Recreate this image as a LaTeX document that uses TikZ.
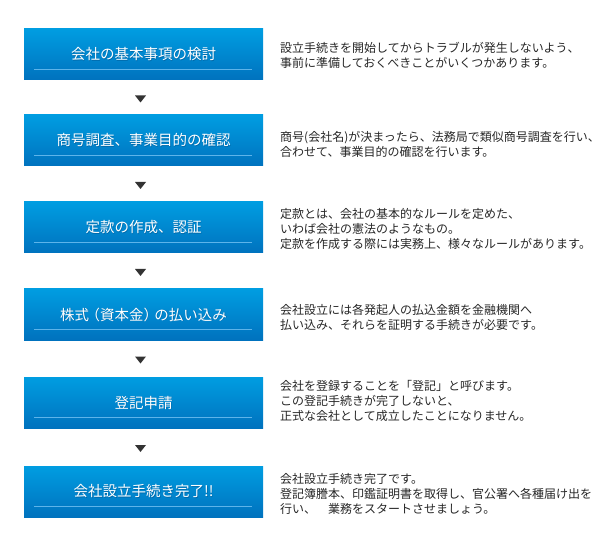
\documentclass[tikz,border=0pt]{standalone}
\usepackage{fontspec}
\setmainfont{Noto Sans CJK JP}
\usetikzlibrary{calc}
\definecolor{boxtop}{HTML}{009DE1}
\definecolor{boxbot}{HTML}{0072BE}
\definecolor{rulec}{HTML}{5DB4EA}
\definecolor{descc}{HTML}{262626}
\definecolor{tric}{HTML}{333333}
\definecolor{shadowc}{HTML}{004A80}
\begin{document}
\begin{tikzpicture}[x=1pt,y=-1pt,
  stepbox/.style={minimum width=239pt,minimum height=51pt,inner sep=0pt,outer sep=0pt,
    anchor=north west,top color=boxtop,bottom color=boxbot,draw=none},
  titletext/.style={text=white,font=\fontsize{14.5pt}{17pt}\selectfont,inner sep=0pt},
  titleshadow/.style={text=shadowc,opacity=0.45,font=\fontsize{14.5pt}{17pt}\selectfont,inner sep=0pt},
  rulestyle/.style={draw=rulec,line width=0.9pt},
  desctext/.style={text=descc,font=\fontsize{12pt}{15pt}\selectfont,align=left,anchor=west,inner sep=0pt},
  arrowtri/.style={fill=tric}
]
\useasboundingbox (0,0) rectangle (600,556);

% boxes
\node[stepbox] (b1) at (24,29) {};
\node[stepbox] (b2) at (24,115) {};
\node[stepbox] (b3) at (24,202) {};
\node[stepbox] (b4) at (24,289) {};
\node[stepbox] (b5) at (24,377) {};
\node[stepbox] (b6) at (24,466) {};

% titles
\foreach \b/\t in {b1/会社の基本事項の検討, b2/商号調査、事業目的の確認, b3/定款の作成、認証, b4/株式\kern-3.6pt（資本金）\kern-3.6pt の払い込み, b5/登記申請, b6/会社設立手続き完了!!}{
  \node[titleshadow] at ($(\b.north)+(0.7,26.2)$) {\t};
  \node[titletext] (\b t) at ($(\b.north)+(0,25.5)$) {\t};
  \draw[rulestyle] ($(\b.north west)+(10,40.5)$) -- ($(\b.north east)+(-11,40.5)$);
}

% descriptions
\node[desctext] (d1) at (280,55.5) {設立手続きを開始してからトラブルが発生しないよう、\\事前に準備しておくべきことがいくつかあります。};
\node[desctext] (d2) at (280,144.2) {商号(会社名)が決まったら、法務局で類似商号調査を行い、\\合わせて、事業目的の確認を行います。};
\node[desctext] (d3) at (280,229) {定款とは、会社の基本的なルールを定めた、\\いわば会社の憲法のようなもの。\\定款を作成する際には実務上、様々なルールがあります。};
\node[desctext] (d4) at (280,317) {会社設立には各発起人の払込金額を金融機関へ\\払い込み、それらを証明する手続きが必要です。};
\node[desctext] (d5) at (280,401.2) {会社を登録することを「登記」と呼びます。\\この登記手続きが完了しないと、\\正式な会社として成立したことになりません。};
\node[desctext] (d6) at (280,494) {会社設立手続き完了です。\\登記簿謄本、印鑑証明書を取得し、官公署へ各種届け出を\\行い、　業務をスタートさせましょう。};

% connectors (down triangles)
\foreach \a/\b/\n in {b1/b2/a1, b2/b3/a2, b3/b4/a3, b4/b5/a4, b5/b6/a5}{
  \coordinate (\n) at ($(\a.south)!0.5!(\b.north)+(-3,1.5)$);
  \fill[arrowtri] ($(\n)+(-5.5,-3.5)$) -- ($(\n)+(5.5,-3.5)$) -- ($(\n)+(0,3.5)$) -- cycle;
}
\end{tikzpicture}
\end{document}
